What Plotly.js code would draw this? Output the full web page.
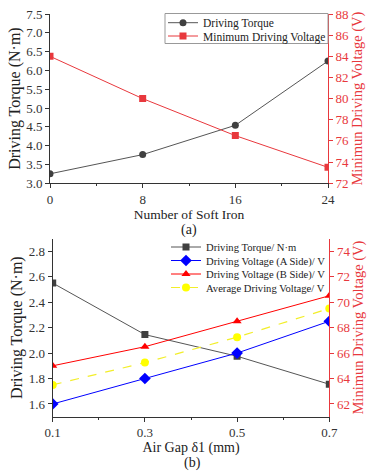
<!DOCTYPE html>
<html>
<head>
<meta charset="utf-8">
<script src="https://cdn.plot.ly/plotly-3.0.1.min.js"></script>
<style>html,body{margin:0;padding:0;background:#fff;}#chart{width:372px;height:472px;}</style>
</head>
<body>
<div id="chart"></div>
<script>
// Chart (a)
const softIron = [0, 8, 16, 24];
const torqueA = [3.25, 3.76, 4.54, 6.25];
const minVoltageA = [84, 80, 76.5, 73.5];
// Chart (b)
const airGap = [0.1, 0.3, 0.5, 0.7];
const torqueB = [2.55, 2.145, 1.975, 1.755];
const voltageASide = [62, 64, 66, 68.5];
const voltageBSide = [65, 66.5, 68.5, 70.5];
const voltageAvg = [63.5, 65.25, 67.25, 69.5];

const FONT = 'Liberation Serif';
const RED = '#e8383d';
const W = 372, H = 472;
const px = v => v / W, py = v => 1 - v / H;

const traces = [
  {x: softIron, y: torqueA, xaxis: 'x', yaxis: 'y', name: 'Driving Torque', mode: 'lines+markers',
   line: {color: '#555', width: 1}, marker: {symbol: 'circle', size: 7, color: '#404040'}, legend: 'legend'},
  {x: softIron, y: minVoltageA, xaxis: 'x', yaxis: 'y2', name: 'Minimum Driving Voltage', mode: 'lines+markers',
   line: {color: RED, width: 1}, marker: {symbol: 'square', size: 7, color: RED}, legend: 'legend2'},
  {x: airGap, y: torqueB, xaxis: 'x2', yaxis: 'y3', name: 'Driving Torque/ N·m', mode: 'lines+markers',
   line: {color: '#555', width: 1}, marker: {symbol: 'square', size: 7, color: '#404040'}, legend: 'legend3'},
  {x: airGap, y: voltageASide, xaxis: 'x2', yaxis: 'y4', name: 'Driving Voltage (A Side)/ V', mode: 'lines+markers',
   line: {color: '#0000ff', width: 1}, marker: {symbol: 'diamond', size: 9, color: '#0000ff'}, legend: 'legend4'},
  {x: airGap, y: voltageBSide, xaxis: 'x2', yaxis: 'y4', name: 'Driving Voltage (B Side)/ V', mode: 'lines+markers',
   line: {color: '#ff0000', width: 1}, marker: {symbol: 'triangle-up', size: 8, color: '#ff0000'}, legend: 'legend5'},
  {x: airGap, y: voltageAvg, xaxis: 'x2', yaxis: 'y4', name: 'Average Driving Voltage/ V', mode: 'lines+markers',
   line: {color: '#f2ee2a', width: 1.2, dash: 'dash'}, marker: {symbol: 'circle', size: 8, color: '#ffff00'}, legend: 'legend6'}
];

const tickFont = {family: FONT, size: 13, color: '#333'};
const baseAx = {showline: true, linecolor: '#333', linewidth: 1, ticks: 'outside', ticklen: 4, tickcolor: '#333',
  showgrid: false, zeroline: false, tickfont: tickFont, automargin: false, fixedrange: true};

function leg(xl, yc, size) {
  return {x: px(xl), xanchor: 'left', y: py(yc), yanchor: 'middle', bgcolor: 'rgba(255,255,255,0)',
    borderwidth: 0, font: {family: FONT, size: size, color: '#222'}};
}

const layout = {
  width: W, height: H,
  margin: {l: 0, r: 0, t: 0, b: 0},
  paper_bgcolor: '#fff', plot_bgcolor: 'rgba(0,0,0,0)',
  font: {family: FONT, color: '#222'},
  xaxis: Object.assign({}, baseAx, {domain: [px(50), px(328)], anchor: 'y', range: [0, 24], tickvals: softIron,
    minor: {ticks: 'outside', ticklen: 2, dtick: 4, tickcolor: '#333'},
    title: {text: 'Number of Soft Iron', font: {family: FONT, size: 13.5, color: '#222'}, standoff: 0}}),
  yaxis: Object.assign({}, baseAx, {domain: [py(183.2), py(14)], anchor: 'x', range: [3, 7.5], dtick: 0.5, tickformat: '.1f',
    title: {text: 'Driving Torque (N·m)', font: {family: FONT, size: 16, color: '#222'}, standoff: 1}}),
  yaxis2: Object.assign({}, baseAx, {overlaying: 'y', side: 'right', anchor: 'x', range: [72, 88], dtick: 2,
    linecolor: RED, tickcolor: RED, tickfont: {family: FONT, size: 13, color: RED},
    title: {text: 'Minimun Driving Voltage (V)', font: {family: FONT, size: 14.5, color: RED}, standoff: 0}}),
  xaxis2: Object.assign({}, baseAx, {domain: [px(52.7), px(329.3)], anchor: 'y3', range: [0.1, 0.7], tickvals: airGap,
    tickformat: '.1f',
    minor: {ticks: 'outside', ticklen: 2, dtick: 0.1, tickcolor: '#333'},
    title: {text: 'Air Gap δ1 (mm)', font: {family: FONT, size: 14, color: '#222'}, standoff: 0}}),
  yaxis3: Object.assign({}, baseAx, {domain: [py(416.7), py(238.5)], anchor: 'x2', range: [1.5, 2.9],
    tickvals: [1.6, 1.8, 2.0, 2.2, 2.4, 2.6, 2.8], tickformat: '.1f',
    title: {text: 'Driving Torque (N·m)', font: {family: FONT, size: 16, color: '#222'}, standoff: 2}}),
  yaxis4: Object.assign({}, baseAx, {overlaying: 'y3', side: 'right', anchor: 'x2', range: [61, 75],
    tickvals: [62, 64, 66, 68, 70, 72, 74],
    linecolor: RED, tickcolor: RED, tickfont: {family: FONT, size: 13, color: RED},
    title: {text: 'Minimun Driving Voltage (V)', font: {family: FONT, size: 14.5, color: RED}, standoff: 1}}),
  legend: leg(163, 22.7, 11.5),
  legend2: leg(163, 36, 11.5),
  legend3: leg(166, 247, 10.6),
  legend4: leg(166, 260.5, 10.6),
  legend5: leg(166, 274, 10.6),
  legend6: leg(166, 287.5, 10.6),
  showlegend: true,
  shapes: [
    {type: 'rect', xref: 'paper', yref: 'paper', x0: px(165), x1: px(328), y0: py(43.5), y1: py(13.5),
     line: {color: '#999', width: 1}, fillcolor: 'rgba(0,0,0,0)'}
  ],
  annotations: [
    {text: '(a)', xref: 'paper', yref: 'paper', x: px(189), y: py(230), showarrow: false,
     font: {family: FONT, size: 14, color: '#222'}, xanchor: 'center', yanchor: 'middle'},
    {text: '(b)', xref: 'paper', yref: 'paper', x: px(192), y: py(463), showarrow: false,
     font: {family: FONT, size: 14, color: '#222'}, xanchor: 'center', yanchor: 'middle'}
  ]
};

Plotly.newPlot('chart', traces, layout, {displayModeBar: false, staticPlot: true});
</script>
</body>
</html>
